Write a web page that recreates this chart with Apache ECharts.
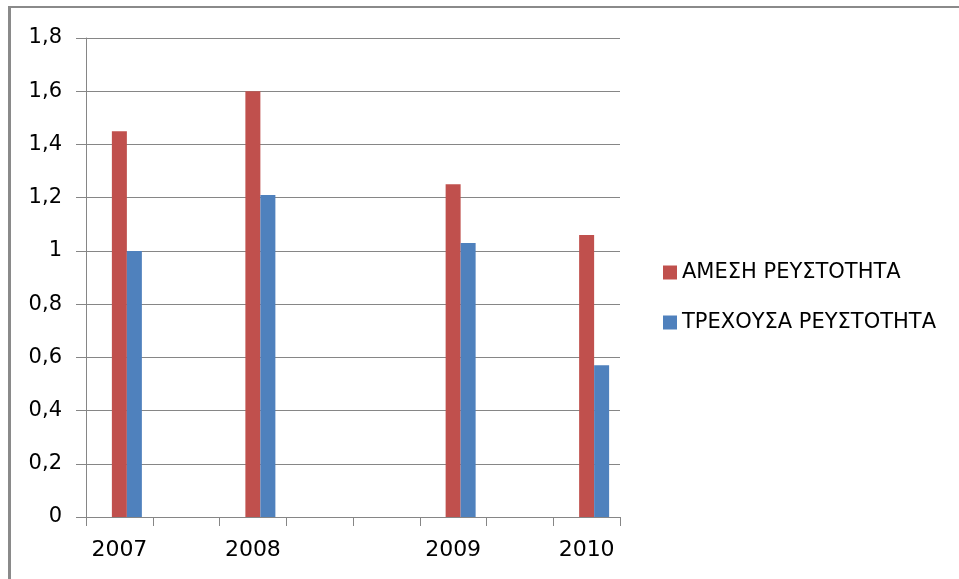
<!DOCTYPE html>
<html lang="el">
<head>
    <meta charset="UTF-8">
    <title>Ρευστότητα 2007-2010</title>
    <script type="text/javascript" src="https://cdn.jsdelivr.net/npm/echarts@6/dist/echarts.min.js"></script>
    <style>
        html, body { margin: 0; padding: 0; background: #fff; }
        #main { width: 959px; height: 579px; }
    </style>
</head>
<body>
    <div id="main"></div>

    <script type="text/javascript">
        // slots of the axis: the years sit on uneven spacing, empty slots between them
        var categories = ['2007', '', '2008', '', '', '2009', '', '2010'];
        var amesi    = [1.45, null, 1.60, null, null, 1.25, null, 1.06];
        var trexousa = [1.00, null, 1.21, null, null, 1.03, null, 0.57];
        var spacer   = [null, null, null, null, null, null, null, null]; // empty series that shifts the pair
        var yTicks = { min: 0, max: 1.8, step: 0.2 };

        var seriesNames = ['ΑΜΕΣΗ ΡΕΥΣΤΟΤΗΤΑ', 'ΤΡΕΧΟΥΣΑ ΡΕΥΣΤΟΤΗΤΑ'];
        var font = 'DejaVu Sans';
        var gridGray = '#868686';

        var myChart = echarts.init(document.getElementById('main'));
        myChart.setOption({
            animation: false,
            textStyle: { fontFamily: font },
            graphic: [
                // left and top edge of the chart frame
                { type: 'rect', shape: { x: 8, y: 6, width: 951, height: 2 }, style: { fill: '#8a8a8a' } },
                { type: 'rect', shape: { x: 8, y: 6, width: 3, height: 573 }, style: { fill: '#8a8a8a' } }
            ],
            legend: {
                data: seriesNames,
                orient: 'vertical',
                left: 658,
                top: 257,
                itemWidth: 14,
                itemHeight: 14,
                itemGap: 29,
                icon: 'rect',
                textStyle: { fontFamily: font, fontSize: 21, color: '#000' }
            },
            grid: { left: 86, top: 38, right: 339, bottom: 62 },
            xAxis: {
                type: 'category',
                data: categories,
                axisLine: { lineStyle: { color: gridGray, width: 1 } },
                axisTick: { show: true, interval: 0, length: 9, lineStyle: { color: gridGray } },
                axisLabel: { interval: 0, margin: 22, fontFamily: font, fontSize: 22, color: '#000' }
            },
            yAxis: {
                type: 'value',
                min: yTicks.min,
                max: yTicks.max,
                interval: yTicks.step,
                axisLine: { show: true, lineStyle: { color: gridGray, width: 1 } },
                axisTick: { show: true, length: 10, lineStyle: { color: gridGray } },
                splitLine: { lineStyle: { color: gridGray, width: 1 } },
                axisLabel: {
                    margin: 24,
                    fontFamily: font,
                    fontSize: 21,
                    color: '#000',
                    formatter: function (v) { return String(Math.round(v * 10) / 10).replace('.', ','); }
                }
            },
            series: [
                { name: 'spacer', type: 'bar', data: spacer, barWidth: 15, barGap: '0%' },
                { name: seriesNames[0], type: 'bar', data: amesi, barWidth: 15, barGap: '0%', itemStyle: { color: '#C0504D' } },
                { name: seriesNames[1], type: 'bar', data: trexousa, barWidth: 15, barGap: '0%', itemStyle: { color: '#4F81BD' } }
            ]
        });
    </script>
</body>
</html>
